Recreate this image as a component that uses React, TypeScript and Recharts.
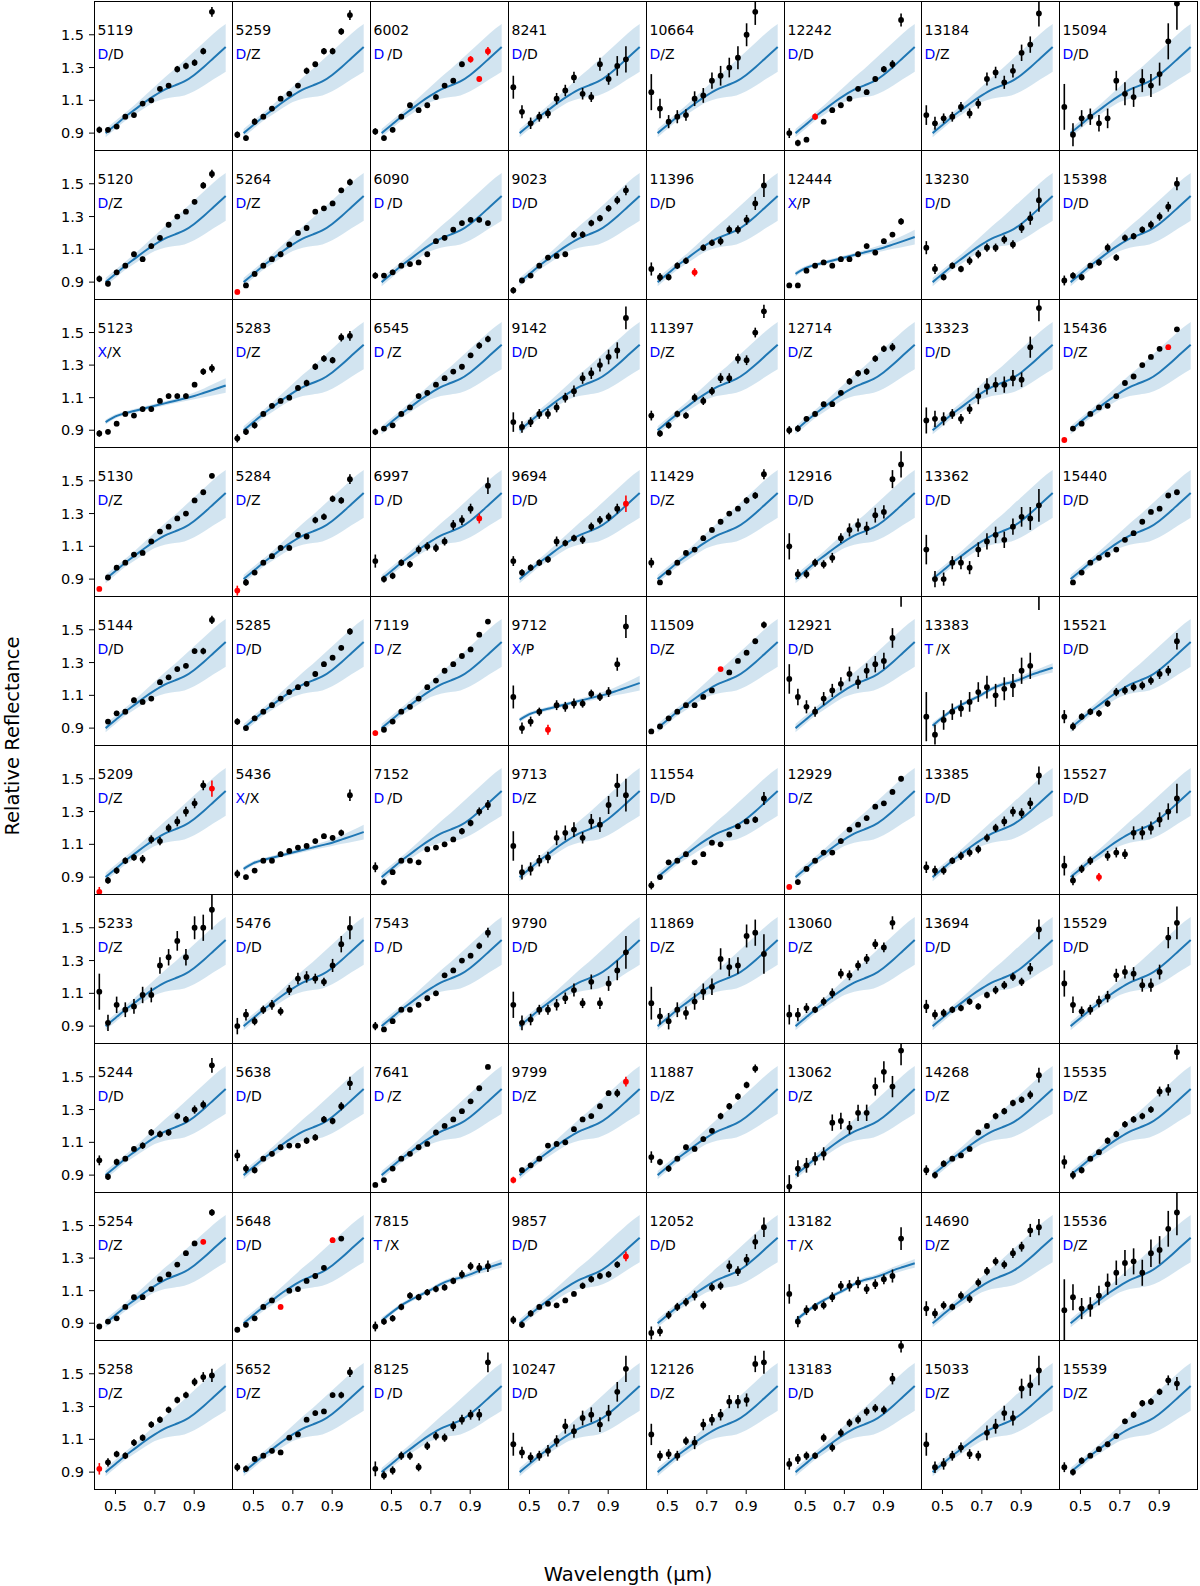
import React from "react";
import { ComposedChart, Area, Line, Scatter, ErrorBar, XAxis, YAxis } from "recharts";

// grid geometry (px)
const GX = 94.3;
const GY = 1;
const PW = 137.84;
const PH = 148.83;

const X_DOMAIN = [0.391, 1.092];
const Y_DOMAIN = [0.797, 1.706];
const X_TICKS = [0.5, 0.7, 0.9];
const Y_TICKS = [0.9, 1.1, 1.3, 1.5];
const FONT = "DejaVu Sans";
const BLUE = "#1f77b4";

// observed wavelengths (um)
const WAVE = [0.418, 0.462, 0.506, 0.55, 0.594, 0.638, 0.682, 0.726, 0.77, 0.814, 0.858, 0.902, 0.946, 0.99];

// class templates: mean spectrum and spread
const TPL_WAVE = [0.45, 0.5, 0.55, 0.6, 0.65, 0.7, 0.75, 0.8, 0.85, 0.9, 0.95, 1.0, 1.06];
const D_MID = [0.9, 0.95, 1.0, 1.045, 1.09, 1.13, 1.165, 1.19, 1.215, 1.255, 1.305, 1.36, 1.425];
const D_LO = [0.875, 0.925, 0.975, 1.015, 1.055, 1.09, 1.11, 1.12, 1.13, 1.155, 1.19, 1.23, 1.275];
const D_HI = [0.925, 0.975, 1.025, 1.075, 1.13, 1.185, 1.24, 1.29, 1.345, 1.4, 1.455, 1.51, 1.565];
const X_MID = [0.95, 0.985, 1.005, 1.02, 1.035, 1.05, 1.065, 1.08, 1.095, 1.11, 1.13, 1.15, 1.175];
const X_LO = [0.935, 0.972, 0.993, 1.008, 1.023, 1.038, 1.052, 1.066, 1.078, 1.09, 1.103, 1.115, 1.13];
const X_HI = [0.965, 0.998, 1.017, 1.032, 1.047, 1.062, 1.078, 1.094, 1.112, 1.132, 1.157, 1.185, 1.22];
const T_MID = [0.915, 0.965, 1.01, 1.045, 1.075, 1.105, 1.14, 1.165, 1.18, 1.2, 1.225, 1.245, 1.268];
const T_LO = [0.895, 0.95, 0.997, 1.032, 1.062, 1.092, 1.127, 1.15, 1.165, 1.183, 1.205, 1.223, 1.24];
const T_HI = [0.935, 0.98, 1.023, 1.058, 1.088, 1.118, 1.153, 1.18, 1.195, 1.217, 1.245, 1.267, 1.295];

const IDS = [
  5119, 5259, 6002, 8241, 10664, 12242, 13184, 15094,
  5120, 5264, 6090, 9023, 11396, 12444, 13230, 15398,
  5123, 5283, 6545, 9142, 11397, 12714, 13323, 15436,
  5130, 5284, 6997, 9694, 11429, 12916, 13362, 15440,
  5144, 5285, 7119, 9712, 11509, 12921, 13383, 15521,
  5209, 5436, 7152, 9713, 11554, 12929, 13385, 15527,
  5233, 5476, 7543, 9790, 11869, 13060, 13694, 15529,
  5244, 5638, 7641, 9799, 11887, 13062, 14268, 15535,
  5254, 5648, 7815, 9857, 12052, 13182, 14690, 15536,
  5258, 5652, 8125, 10247, 12126, 13183, 15033, 15539,
];

// predicted class (blue) / reference class (black)
const CLASS_A = (
  "DDDDDDDD" + "DDDDDXDD" + "XDDDDDDD" + "DDDDDDDD" + "DDDXDDTD" +
  "DXDDDDDD" + "DDDDDDDD" + "DDDDDDDD" + "DDTDDTDD" + "DDDDDDDD"
).split("");
const CLASS_B = (
  "DZDDZDZD" + "ZZDDDPDD" + "XZZDZZDZ" + "ZZDDZDDD" + "DDZPZDXD" +
  "ZXDZDZDD" + "ZDDDZZDD" + "DDZZZZZZ" + "ZDXDDXZZ" + "ZZDDZDZZ"
).split("");

const N = null;

const REFL: (number | null)[][] = [
  // row 1
  [0.92, 0.92, 0.94, 1.0, 1.01, 1.08, 1.1, 1.17, 1.19, 1.29, 1.31, 1.33, 1.4, 1.64],
  [0.89, 0.87, 0.97, 1.0, 1.05, 1.11, 1.14, 1.19, 1.28, 1.32, 1.4, 1.4, 1.52, 1.62],
  [0.91, 0.87, 0.92, 1.0, 1.07, 1.04, 1.07, 1.12, 1.19, 1.22, 1.32, 1.35, 1.23, 1.4],
  [1.18, 1.03, 0.96, 1.0, 1.02, 1.11, 1.16, 1.24, 1.14, 1.12, 1.32, 1.23, 1.31, 1.35],
  [1.15, 1.05, 0.97, 1.0, 1.01, 1.11, 1.13, 1.22, 1.25, 1.3, 1.36, 1.5, 1.64, N],
  [0.9, 0.84, 0.86, 1.0, 0.97, 1.04, 1.07, 1.11, 1.17, 1.15, 1.23, 1.29, 1.32, 1.59],
  [1.01, 0.96, 0.99, 1.0, 1.06, 1.02, 1.08, 1.23, 1.27, 1.21, 1.28, 1.39, 1.44, 1.63],
  [1.06, 0.89, 0.99, 1.0, 0.96, 0.99, 1.22, 1.14, 1.12, 1.22, 1.19, 1.26, 1.46, 1.69],
  // row 2
  [0.92, 0.89, 0.96, 1.0, 1.07, 1.04, 1.12, 1.17, 1.25, 1.3, 1.33, 1.39, 1.49, 1.56],
  [0.84, 0.88, 0.95, 1.0, 1.04, 1.07, 1.13, 1.2, 1.23, 1.33, 1.35, 1.38, 1.46, 1.51],
  [0.94, 0.94, 0.96, 1.0, 1.01, 1.02, 1.07, 1.15, 1.17, 1.22, 1.26, 1.28, 1.28, 1.26],
  [0.85, 0.91, 0.94, 1.0, 1.05, 1.06, 1.07, 1.19, 1.19, 1.26, 1.29, 1.35, 1.4, 1.46],
  [0.98, 0.93, 0.93, 1.0, 1.03, 0.96, 1.11, 1.14, 1.15, 1.22, 1.22, 1.28, 1.38, 1.49],
  [0.88, 0.88, 0.97, 1.0, 1.02, 1.0, 1.04, 1.04, 1.07, 1.12, 1.08, 1.15, 1.19, 1.27],
  [1.11, 0.98, 0.93, 1.0, 0.98, 1.03, 1.07, 1.11, 1.11, 1.16, 1.13, 1.23, 1.29, 1.4],
  [0.91, 0.94, 0.93, 1.0, 1.02, 1.11, 1.05, 1.17, 1.18, 1.22, 1.25, 1.3, 1.36, 1.5],
  // row 3
  [0.88, 0.89, 0.94, 1.0, 0.99, 1.03, 1.03, 1.08, 1.11, 1.11, 1.11, 1.18, 1.26, 1.28],
  [0.85, 0.89, 0.93, 1.0, 1.05, 1.08, 1.1, 1.16, 1.19, 1.29, 1.34, 1.33, 1.47, 1.48],
  [0.89, 0.91, 0.93, 1.0, 1.04, 1.11, 1.13, 1.18, 1.22, 1.26, 1.29, 1.36, 1.42, 1.46],
  [0.95, 0.92, 0.95, 1.0, 1.0, 1.04, 1.1, 1.14, 1.22, 1.25, 1.3, 1.35, 1.39, 1.59],
  [0.99, 0.88, 0.93, 1.0, 0.99, 1.1, 1.08, 1.14, 1.22, 1.22, 1.34, 1.33, 1.5, 1.63],
  [0.9, 0.91, 0.97, 1.0, 1.06, 1.06, 1.13, 1.2, 1.25, 1.26, 1.34, 1.4, 1.41, N],
  [0.96, 0.97, 0.97, 1.0, 0.97, 1.03, 1.11, 1.17, 1.18, 1.18, 1.22, 1.21, 1.41, 1.65],
  [0.84, 0.91, 0.94, 1.0, 1.04, 1.05, 1.11, 1.19, 1.23, 1.3, 1.35, 1.4, 1.41, 1.52],
  // row 4
  [0.84, 0.91, 0.97, 1.0, 1.05, 1.06, 1.13, 1.19, 1.22, 1.27, 1.3, 1.38, 1.43, 1.53],
  [0.83, 0.88, 0.94, 1.0, 1.04, 1.09, 1.09, 1.17, 1.16, 1.26, 1.28, 1.39, 1.38, 1.51],
  [1.01, 0.9, 0.92, 1.0, 0.99, 1.08, 1.1, 1.09, 1.13, 1.23, 1.26, 1.33, 1.27, 1.47],
  [1.01, 0.94, 0.97, 1.0, 1.02, 1.13, 1.12, 1.15, 1.14, 1.22, 1.26, 1.28, 1.33, 1.36],
  [1.0, 0.88, 0.94, 1.0, 1.06, 1.08, 1.15, 1.2, 1.25, 1.3, 1.33, 1.38, 1.41, 1.54],
  [1.1, 0.93, 0.93, 1.0, 0.99, 1.03, 1.15, 1.2, 1.23, 1.21, 1.29, 1.31, 1.51, 1.6],
  [1.08, 0.9, 0.9, 1.0, 1.0, 0.97, 1.08, 1.13, 1.17, 1.14, 1.22, 1.28, 1.27, 1.35],
  [N, 0.88, 0.94, 1.0, 1.03, 1.05, 1.08, 1.14, 1.18, 1.25, 1.31, 1.33, 1.41, 1.43],
  // row 5
  [N, 0.94, 0.99, 1.0, 1.07, 1.06, 1.08, 1.18, 1.21, 1.26, 1.28, 1.37, 1.37, 1.56],
  [0.94, 0.9, 0.96, 1.0, 1.04, 1.08, 1.12, 1.15, 1.17, 1.23, 1.29, 1.33, 1.39, 1.49],
  [0.87, 0.89, 0.94, 1.0, 1.03, 1.08, 1.15, 1.19, 1.25, 1.29, 1.34, 1.38, 1.47, 1.55],
  [1.09, 0.9, 0.94, 1.0, 0.89, 1.04, 1.03, 1.05, 1.05, 1.11, 1.09, 1.12, 1.29, 1.52],
  [0.88, 0.91, 0.96, 1.0, 1.04, 1.04, 1.09, 1.13, 1.26, 1.24, 1.31, 1.36, 1.43, 1.53],
  [1.2, 1.09, 1.03, 1.0, 1.08, 1.13, 1.17, 1.23, 1.18, 1.25, 1.29, 1.31, 1.45, 1.76],
  [0.97, 0.86, 0.95, 1.0, 1.02, 1.06, 1.12, 1.15, 1.1, 1.14, 1.16, 1.25, 1.28, 1.78],
  [0.97, 0.91, 0.97, 1.0, 0.99, 1.05, 1.12, 1.13, 1.15, 1.16, 1.19, 1.23, 1.25, 1.43],
  // row 6
  [0.81, 0.88, 0.94, 1.0, 1.02, 1.01, 1.13, 1.12, 1.2, 1.24, 1.3, 1.35, 1.46, 1.44],
  [0.92, 0.9, 0.94, 1.0, 1.0, 1.04, 1.06, 1.08, 1.09, 1.12, 1.15, 1.14, 1.17, 1.4],
  [0.96, 0.87, 0.93, 1.0, 1.0, 0.99, 1.07, 1.08, 1.1, 1.13, 1.18, 1.23, 1.3, 1.34],
  [1.09, 0.93, 0.95, 1.0, 1.02, 1.14, 1.17, 1.19, 1.14, 1.24, 1.22, 1.34, 1.46, 1.4],
  [0.85, 0.9, 0.99, 1.0, 1.04, 0.99, 1.04, 1.11, 1.1, 1.16, 1.21, 1.24, 1.25, 1.38],
  [0.84, 0.87, 0.95, 1.0, 1.05, 1.05, 1.12, 1.19, 1.22, 1.26, 1.33, 1.35, 1.42, 1.5],
  [0.96, 0.94, 0.94, 1.0, 1.03, 1.05, 1.07, 1.14, 1.2, 1.24, 1.3, 1.29, 1.35, 1.52],
  [0.97, 0.88, 0.95, 1.0, 0.9, 1.03, 1.05, 1.04, 1.17, 1.17, 1.2, 1.25, 1.3, 1.38],
  // row 7
  [1.11, 0.92, 1.03, 1.0, 1.02, 1.09, 1.09, 1.27, 1.32, 1.42, 1.32, 1.5, 1.5, 1.61],
  [0.9, 0.97, 0.93, 1.0, 1.03, 0.99, 1.12, 1.19, 1.2, 1.19, 1.17, 1.27, 1.4, 1.5],
  [0.9, 0.88, 0.93, 1.0, 1.0, 1.03, 1.07, 1.1, 1.21, 1.24, 1.3, 1.33, 1.39, 1.47],
  [1.03, 0.92, 0.94, 1.0, 1.0, 1.03, 1.07, 1.12, 1.04, 1.17, 1.04, 1.16, 1.24, 1.35],
  [1.04, 0.96, 0.93, 1.0, 0.98, 1.05, 1.11, 1.14, 1.31, 1.26, 1.27, 1.45, 1.47, 1.34],
  [0.97, 0.97, 1.01, 1.0, 1.05, 1.1, 1.22, 1.21, 1.27, 1.31, 1.4, 1.38, 1.53, N],
  [1.02, 0.97, 0.98, 1.0, 1.01, 1.05, 1.02, 1.09, 1.12, 1.15, 1.2, 1.17, 1.25, 1.49],
  [1.16, 1.03, 0.99, 1.0, 1.05, 1.08, 1.21, 1.23, 1.22, 1.15, 1.15, 1.23, 1.44, 1.53],
  // row 8
  [0.99, 0.89, 0.98, 1.0, 1.06, 1.08, 1.16, 1.15, 1.16, 1.26, 1.24, 1.3, 1.33, 1.57],
  [1.02, 0.94, 0.93, 1.0, 1.03, 1.07, 1.08, 1.08, 1.11, 1.13, 1.24, 1.23, 1.32, 1.46],
  [0.84, 0.87, 0.94, 1.0, 1.03, 1.07, 1.09, 1.16, 1.2, 1.24, 1.29, 1.35, 1.43, 1.56],
  [0.87, 0.93, 0.96, 1.0, 1.08, 1.09, 1.1, 1.18, 1.24, 1.26, 1.32, 1.4, 1.4, 1.47],
  [1.01, 0.98, 0.94, 1.0, 1.07, 1.06, 1.12, 1.17, 1.26, 1.32, 1.38, 1.45, 1.55, N],
  [0.83, 0.94, 0.96, 1.0, 1.03, 1.22, 1.23, 1.19, 1.28, 1.28, 1.44, 1.53, 1.44, 1.66],
  [0.93, 0.9, 0.97, 1.0, 1.02, 1.06, 1.16, 1.2, 1.26, 1.29, 1.34, 1.36, 1.39, 1.51],
  [0.98, 0.9, 0.93, 1.0, 1.04, 1.11, 1.15, 1.21, 1.24, 1.26, 1.3, 1.41, 1.42, 1.65],
  // row 9
  [0.88, 0.91, 0.93, 1.0, 1.06, 1.06, 1.11, 1.17, 1.2, 1.26, 1.33, 1.39, 1.4, 1.58],
  [0.86, 0.89, 0.93, 1.0, 1.04, 1.0, 1.1, 1.11, 1.16, 1.19, 1.24, 1.41, 1.42, N],
  [0.88, 0.91, 0.93, 1.0, 1.07, 1.06, 1.09, 1.11, 1.12, 1.16, 1.2, 1.25, 1.24, 1.25],
  [0.92, 0.89, 0.96, 1.0, 1.02, 1.01, 1.04, 1.08, 1.13, 1.17, 1.19, 1.2, 1.26, 1.31],
  [0.84, 0.85, 0.95, 1.0, 1.03, 1.07, 1.01, 1.12, 1.13, 1.25, 1.22, 1.29, 1.4, 1.49],
  [1.08, 0.91, 0.98, 1.0, 1.01, 1.06, 1.13, 1.13, 1.15, 1.11, 1.14, 1.17, 1.19, 1.42],
  [0.99, 0.96, 1.01, 1.0, 1.07, 1.05, 1.15, 1.22, 1.28, 1.26, 1.33, 1.37, 1.47, 1.49],
  [0.98, 1.06, 0.99, 1.0, 1.07, 1.14, 1.21, 1.27, 1.28, 1.21, 1.33, 1.35, 1.48, 1.58],
  // row 10
  [0.92, 0.96, 1.01, 1.0, 1.08, 1.11, 1.19, 1.22, 1.28, 1.34, 1.37, 1.45, 1.48, 1.49],
  [0.93, 0.92, 0.98, 1.0, 1.03, 1.02, 1.11, 1.13, 1.22, 1.26, 1.27, 1.37, 1.37, 1.51],
  [0.92, 0.88, 0.91, 1.0, 1.0, 0.93, 1.06, 1.12, 1.11, 1.18, 1.22, 1.25, 1.25, 1.57],
  [1.07, 1.02, 0.99, 1.0, 1.03, 1.09, 1.18, 1.15, 1.23, 1.25, 1.19, 1.26, 1.39, 1.53],
  [1.13, 1.0, 1.01, 1.0, 1.09, 1.08, 1.19, 1.22, 1.25, 1.33, 1.33, 1.34, 1.56, 1.57],
  [0.95, 0.98, 1.0, 1.0, 1.11, 1.05, 1.14, 1.2, 1.22, 1.27, 1.29, 1.28, 1.47, 1.67],
  [1.07, 0.93, 0.95, 1.0, 1.05, 1.01, 1.0, 1.14, 1.18, 1.26, 1.23, 1.41, 1.43, 1.52],
  [0.93, 0.9, 0.97, 1.0, 1.04, 1.07, 1.12, 1.21, 1.25, 1.32, 1.33, 1.39, 1.46, 1.44],
];

const ERR: number[][] = [
  // row 1
  [0.02, 0.015, 0.015, 0.015, 0.015, 0.015, 0.015, 0.015, 0.015, 0.02, 0.02, 0.02, 0.02, 0.03],
  [0.02, 0.015, 0.02, 0.015, 0.015, 0.015, 0.015, 0.015, 0.02, 0.015, 0.02, 0.02, 0.02, 0.03],
  [0.02, 0.015, 0.015, 0.015, 0.015, 0.015, 0.015, 0.015, 0.015, 0.015, 0.015, 0.02, 0.015, 0.025],
  [0.07, 0.04, 0.035, 0.03, 0.03, 0.035, 0.035, 0.035, 0.035, 0.03, 0.04, 0.035, 0.06, 0.08],
  [0.11, 0.06, 0.04, 0.04, 0.035, 0.045, 0.045, 0.05, 0.06, 0.06, 0.07, 0.07, 0.08, 0],
  [0.03, 0.02, 0.015, 0.02, 0.015, 0.015, 0.015, 0.015, 0.015, 0.015, 0.015, 0.02, 0.025, 0.04],
  [0.06, 0.04, 0.03, 0.03, 0.03, 0.03, 0.03, 0.04, 0.035, 0.04, 0.04, 0.05, 0.05, 0.08],
  [0.14, 0.07, 0.05, 0.05, 0.05, 0.06, 0.06, 0.07, 0.06, 0.07, 0.07, 0.07, 0.11, 0.16],
  // row 2
  [0.02, 0.015, 0.015, 0.015, 0.015, 0.015, 0.015, 0.015, 0.015, 0.015, 0.015, 0.015, 0.02, 0.025],
  [0.015, 0.015, 0.015, 0.015, 0.015, 0.015, 0.015, 0.015, 0.015, 0.015, 0.015, 0.015, 0.015, 0.02],
  [0.02, 0.015, 0.015, 0.015, 0.015, 0.015, 0.015, 0.015, 0.015, 0.015, 0.015, 0.015, 0.015, 0.015],
  [0.02, 0.015, 0.015, 0.015, 0.015, 0.015, 0.015, 0.02, 0.02, 0.02, 0.02, 0.02, 0.025, 0.03],
  [0.04, 0.025, 0.02, 0.02, 0.02, 0.025, 0.02, 0.02, 0.025, 0.025, 0.025, 0.03, 0.04, 0.07],
  [0.015, 0.015, 0.015, 0.015, 0.015, 0.015, 0.015, 0.015, 0.015, 0.015, 0.015, 0.015, 0.015, 0.02],
  [0.04, 0.03, 0.02, 0.02, 0.02, 0.025, 0.025, 0.025, 0.025, 0.025, 0.025, 0.03, 0.04, 0.07],
  [0.03, 0.02, 0.02, 0.015, 0.02, 0.025, 0.02, 0.02, 0.02, 0.02, 0.025, 0.025, 0.03, 0.04],
  // row 3
  [0.02, 0.015, 0.015, 0.015, 0.015, 0.015, 0.015, 0.015, 0.015, 0.015, 0.015, 0.015, 0.02, 0.025],
  [0.025, 0.02, 0.02, 0.015, 0.015, 0.015, 0.015, 0.015, 0.02, 0.02, 0.02, 0.02, 0.025, 0.03],
  [0.02, 0.015, 0.015, 0.015, 0.015, 0.015, 0.015, 0.015, 0.015, 0.015, 0.015, 0.015, 0.02, 0.02],
  [0.06, 0.035, 0.03, 0.03, 0.03, 0.03, 0.03, 0.035, 0.035, 0.035, 0.04, 0.045, 0.05, 0.07],
  [0.03, 0.02, 0.02, 0.02, 0.02, 0.025, 0.025, 0.025, 0.03, 0.03, 0.03, 0.03, 0.03, 0.04],
  [0.025, 0.02, 0.015, 0.015, 0.015, 0.015, 0.015, 0.02, 0.02, 0.02, 0.02, 0.02, 0.025, 0],
  [0.08, 0.05, 0.04, 0.03, 0.03, 0.03, 0.05, 0.05, 0.045, 0.05, 0.05, 0.045, 0.065, 0.08],
  [0.01, 0.01, 0.01, 0.01, 0.01, 0.01, 0.01, 0.01, 0.01, 0.01, 0.01, 0.01, 0.01, 0.012],
  // row 4
  [0.012, 0.012, 0.012, 0.012, 0.012, 0.012, 0.012, 0.012, 0.012, 0.012, 0.012, 0.012, 0.012, 0.015],
  [0.03, 0.02, 0.015, 0.015, 0.015, 0.015, 0.015, 0.015, 0.015, 0.02, 0.02, 0.02, 0.02, 0.03],
  [0.04, 0.02, 0.02, 0.02, 0.02, 0.025, 0.025, 0.025, 0.025, 0.03, 0.03, 0.03, 0.03, 0.05],
  [0.03, 0.02, 0.02, 0.02, 0.02, 0.03, 0.02, 0.02, 0.025, 0.025, 0.025, 0.025, 0.03, 0.05],
  [0.03, 0.015, 0.015, 0.015, 0.015, 0.015, 0.015, 0.015, 0.015, 0.015, 0.015, 0.02, 0.02, 0.03],
  [0.08, 0.03, 0.025, 0.025, 0.025, 0.03, 0.03, 0.04, 0.04, 0.04, 0.045, 0.04, 0.055, 0.08],
  [0.09, 0.05, 0.04, 0.04, 0.04, 0.04, 0.045, 0.05, 0.05, 0.05, 0.05, 0.06, 0.07, 0.1],
  [0, 0.01, 0.01, 0.01, 0.01, 0.01, 0.01, 0.01, 0.01, 0.01, 0.01, 0.01, 0.012, 0.012],
  // row 5
  [0, 0.015, 0.015, 0.015, 0.015, 0.015, 0.015, 0.015, 0.015, 0.015, 0.015, 0.015, 0.02, 0.025],
  [0.02, 0.015, 0.015, 0.015, 0.015, 0.015, 0.015, 0.015, 0.015, 0.015, 0.015, 0.015, 0.015, 0.02],
  [0.015, 0.012, 0.012, 0.012, 0.012, 0.012, 0.012, 0.012, 0.012, 0.012, 0.012, 0.012, 0.015, 0.015],
  [0.07, 0.035, 0.03, 0.025, 0.03, 0.03, 0.03, 0.03, 0.025, 0.025, 0.025, 0.03, 0.04, 0.07],
  [0.012, 0.012, 0.012, 0.012, 0.012, 0.012, 0.012, 0.012, 0.012, 0.012, 0.012, 0.015, 0.015, 0.02],
  [0.09, 0.05, 0.04, 0.03, 0.04, 0.04, 0.04, 0.045, 0.04, 0.045, 0.05, 0.05, 0.06, 0.12],
  [0.15, 0.06, 0.06, 0.05, 0.05, 0.06, 0.06, 0.07, 0.07, 0.07, 0.07, 0.08, 0.08, 0.16],
  [0.04, 0.025, 0.02, 0.02, 0.02, 0.02, 0.025, 0.025, 0.025, 0.025, 0.025, 0.03, 0.03, 0.05],
  // row 6
  [0.03, 0.02, 0.02, 0.02, 0.02, 0.025, 0.025, 0.025, 0.025, 0.03, 0.03, 0.03, 0.03, 0.05],
  [0.025, 0.015, 0.015, 0.015, 0.015, 0.015, 0.015, 0.015, 0.015, 0.015, 0.015, 0.015, 0.02, 0.035],
  [0.03, 0.02, 0.015, 0.015, 0.015, 0.015, 0.015, 0.015, 0.015, 0.015, 0.02, 0.02, 0.025, 0.03],
  [0.09, 0.045, 0.04, 0.035, 0.035, 0.045, 0.045, 0.045, 0.035, 0.045, 0.045, 0.055, 0.07, 0.1],
  [0.025, 0.015, 0.015, 0.015, 0.015, 0.015, 0.015, 0.015, 0.015, 0.015, 0.015, 0.015, 0.02, 0.04],
  [0.015, 0.015, 0.015, 0.015, 0.015, 0.015, 0.015, 0.015, 0.015, 0.015, 0.015, 0.015, 0.015, 0.015],
  [0.035, 0.03, 0.025, 0.02, 0.025, 0.025, 0.025, 0.025, 0.025, 0.03, 0.03, 0.03, 0.035, 0.055],
  [0.06, 0.03, 0.025, 0.025, 0.025, 0.03, 0.03, 0.03, 0.04, 0.04, 0.04, 0.045, 0.05, 0.09],
  // row 7
  [0.11, 0.05, 0.05, 0.045, 0.045, 0.05, 0.045, 0.05, 0.05, 0.06, 0.05, 0.07, 0.08, 0.12],
  [0.05, 0.035, 0.025, 0.025, 0.03, 0.025, 0.03, 0.035, 0.035, 0.03, 0.025, 0.04, 0.05, 0.07],
  [0.025, 0.015, 0.015, 0.015, 0.015, 0.015, 0.015, 0.015, 0.015, 0.015, 0.015, 0.015, 0.02, 0.03],
  [0.08, 0.045, 0.035, 0.03, 0.03, 0.035, 0.035, 0.04, 0.03, 0.045, 0.035, 0.045, 0.06, 0.1],
  [0.1, 0.05, 0.05, 0.045, 0.04, 0.05, 0.05, 0.05, 0.065, 0.055, 0.05, 0.07, 0.08, 0.12],
  [0.06, 0.04, 0.03, 0.02, 0.025, 0.03, 0.03, 0.03, 0.03, 0.03, 0.03, 0.03, 0.04, 0],
  [0.04, 0.03, 0.025, 0.02, 0.02, 0.02, 0.02, 0.02, 0.025, 0.025, 0.025, 0.025, 0.035, 0.06],
  [0.08, 0.05, 0.03, 0.03, 0.035, 0.035, 0.04, 0.04, 0.04, 0.04, 0.04, 0.045, 0.065, 0.1],
  // row 8
  [0.03, 0.02, 0.02, 0.015, 0.015, 0.02, 0.02, 0.02, 0.02, 0.02, 0.02, 0.025, 0.025, 0.045],
  [0.035, 0.025, 0.02, 0.015, 0.015, 0.015, 0.015, 0.015, 0.02, 0.02, 0.02, 0.02, 0.025, 0.04],
  [0.012, 0.012, 0.012, 0.012, 0.012, 0.012, 0.012, 0.012, 0.012, 0.012, 0.012, 0.012, 0.012, 0.012],
  [0.02, 0.015, 0.015, 0.015, 0.015, 0.015, 0.015, 0.015, 0.015, 0.015, 0.015, 0.015, 0.025, 0.03],
  [0.035, 0.02, 0.02, 0.015, 0.015, 0.015, 0.015, 0.015, 0.02, 0.02, 0.02, 0.02, 0.025, 0],
  [0.07, 0.05, 0.045, 0.04, 0.04, 0.05, 0.05, 0.04, 0.05, 0.05, 0.055, 0.065, 0.065, 0.09],
  [0.03, 0.02, 0.02, 0.015, 0.015, 0.015, 0.015, 0.015, 0.02, 0.02, 0.02, 0.02, 0.025, 0.045],
  [0.04, 0.025, 0.02, 0.015, 0.015, 0.02, 0.02, 0.02, 0.02, 0.02, 0.02, 0.03, 0.035, 0.045],
  // row 9
  [0.012, 0.012, 0.012, 0.012, 0.012, 0.012, 0.012, 0.012, 0.012, 0.012, 0.012, 0.012, 0.015, 0.02],
  [0.015, 0.015, 0.015, 0.015, 0.015, 0.015, 0.015, 0.015, 0.015, 0.015, 0.015, 0.015, 0.015, 0],
  [0.03, 0.02, 0.02, 0.02, 0.02, 0.02, 0.02, 0.02, 0.02, 0.02, 0.025, 0.025, 0.03, 0.035],
  [0.025, 0.02, 0.02, 0.015, 0.015, 0.015, 0.015, 0.015, 0.02, 0.02, 0.02, 0.02, 0.02, 0.03],
  [0.04, 0.03, 0.025, 0.025, 0.025, 0.03, 0.025, 0.025, 0.025, 0.035, 0.03, 0.035, 0.045, 0.06],
  [0.06, 0.035, 0.03, 0.025, 0.025, 0.03, 0.03, 0.035, 0.035, 0.03, 0.03, 0.03, 0.04, 0.07],
  [0.045, 0.03, 0.025, 0.02, 0.025, 0.025, 0.025, 0.025, 0.025, 0.025, 0.03, 0.03, 0.04, 0.05],
  [0.19, 0.08, 0.065, 0.06, 0.06, 0.065, 0.075, 0.08, 0.08, 0.08, 0.085, 0.085, 0.11, 0.14],
  // row 10
  [0.035, 0.025, 0.02, 0.02, 0.02, 0.02, 0.02, 0.02, 0.02, 0.02, 0.02, 0.025, 0.03, 0.04],
  [0.025, 0.02, 0.015, 0.015, 0.015, 0.015, 0.015, 0.015, 0.015, 0.015, 0.015, 0.015, 0.02, 0.03],
  [0.045, 0.025, 0.025, 0.025, 0.025, 0.025, 0.025, 0.025, 0.025, 0.03, 0.03, 0.03, 0.035, 0.06],
  [0.07, 0.035, 0.03, 0.03, 0.035, 0.035, 0.045, 0.04, 0.045, 0.045, 0.045, 0.05, 0.06, 0.08],
  [0.065, 0.03, 0.03, 0.03, 0.025, 0.04, 0.035, 0.035, 0.035, 0.04, 0.04, 0.04, 0.05, 0.07],
  [0.035, 0.03, 0.025, 0.02, 0.025, 0.025, 0.025, 0.025, 0.025, 0.025, 0.025, 0.025, 0.035, 0.04],
  [0.07, 0.035, 0.035, 0.03, 0.03, 0.03, 0.03, 0.045, 0.045, 0.045, 0.045, 0.06, 0.065, 0.09],
  [0.03, 0.02, 0.02, 0.015, 0.015, 0.015, 0.015, 0.015, 0.02, 0.02, 0.02, 0.02, 0.03, 0.04],
];

// indices of flagged (red) points in each panel
const FLAGGED: number[][] = [
  [], [], [11, 12, 13], [], [], [3], [], [],
  [], [0], [], [], [5], [], [], [],
  [], [], [], [], [], [], [], [0, 12],
  [0], [0], [12], [13], [], [], [], [],
  [], [], [0], [4], [8], [], [], [],
  [0, 13], [], [], [], [], [0], [], [4],
  [], [], [], [], [], [], [], [],
  [], [], [], [0, 13], [], [], [], [],
  [12], [5, 11], [], [13], [], [], [], [],
  [0], [], [], [], [], [], [], [],
];

const TEMPLATES: Record<string, { mid: number[]; lo: number[]; hi: number[] }> = {
  D: { mid: D_MID, lo: D_LO, hi: D_HI },
  X: { mid: X_MID, lo: X_LO, hi: X_HI },
  T: { mid: T_MID, lo: T_LO, hi: T_HI },
};

const dot = (fill: string) => (p: any) =>
  Number.isFinite(p.cx) && Number.isFinite(p.cy) ? <circle cx={p.cx} cy={p.cy} r={2.9} fill={fill} /> : <g />;

const tickStyle = { fontSize: 14.5, fill: "#000", fontFamily: FONT };

// pixel-snapped panel edges
const colEdge = (c: number) => Math.round(GX + c * PW);
const rowEdge = (r: number) => Math.round(GY + r * PH);

function Panel({ i }: { i: number }) {
  const r = Math.floor(i / 8);
  const c = i % 8;
  const lm = c === 0 ? 48 : 8;
  const bm = r === 9 ? 32 : 0;
  const pw = colEdge(c + 1) - colEdge(c);
  const ph = rowEdge(r + 1) - rowEdge(r);
  const w = pw + lm;
  const h = ph + bm;

  const tpl = TEMPLATES[CLASS_A[i]];
  const model = TPL_WAVE.map((x, k) => ({ w: x, v: tpl.mid[k], band: [tpl.lo[k], tpl.hi[k]] }));
  const pts = WAVE.map((x, k) => ({
    w: x,
    y: REFL[i][k],
    e: ERR[i][k],
    bad: FLAGGED[i].includes(k),
  })).filter((p) => p.y !== null);
  const good = pts.filter((p) => !p.bad);
  const bad = pts.filter((p) => p.bad);

  return (
    <div style={{ position: "absolute", left: colEdge(c) - lm, top: rowEdge(r), width: w, height: h }}>
      <ComposedChart width={w} height={h} data={model} margin={{ top: 0, right: 0, bottom: 0, left: 0 }}>
        <XAxis
          type="number"
          dataKey="w"
          domain={X_DOMAIN}
          allowDataOverflow
          ticks={X_TICKS}
          interval={0}
          hide={r !== 9}
          height={bm}
          stroke="#000"
          axisLine={false}
          tick={tickStyle}
          tickSize={5}
          tickMargin={7}
          tickFormatter={(v: number) => v.toFixed(1)}
        />
        <YAxis
          type="number"
          dataKey="y"
          domain={Y_DOMAIN}
          allowDataOverflow
          ticks={Y_TICKS}
          interval={0}
          width={lm}
          stroke="#000"
          axisLine={false}
          tick={c === 0 ? tickStyle : false}
          tickSize={5}
          tickMargin={5}
          tickFormatter={(v: number) => v.toFixed(1)}
        />
        <Area dataKey="band" type="monotone" stroke="none" fill={BLUE} fillOpacity={0.2} dot={false} activeDot={false} isAnimationActive={false} />
        <Line dataKey="v" type="monotone" stroke={BLUE} strokeWidth={2} dot={false} activeDot={false} isAnimationActive={false} />
        <Scatter data={good} dataKey="y" fill="#000" shape={dot("#000")} isAnimationActive={false}>
          <ErrorBar dataKey="e" direction="y" width={0} stroke="#000" strokeWidth={1.6} isAnimationActive={false} />
        </Scatter>
        {bad.length > 0 && (
          <Scatter data={bad} dataKey="y" fill="#ff0000" shape={dot("#ff0000")} isAnimationActive={false}>
            <ErrorBar dataKey="e" direction="y" width={0} stroke="#ff0000" strokeWidth={1.6} isAnimationActive={false} />
          </Scatter>
        )}
      </ComposedChart>
    </div>
  );
}

export default function App() {
  return (
    <div style={{ position: "absolute", left: 0, top: 0, width: 1200, height: 1586, background: "#fff", fontFamily: FONT }}>
      {IDS.map((_, i) => (
        <Panel key={i} i={i} />
      ))}
      <svg width={1200} height={1586} style={{ position: "absolute", left: 0, top: 0, pointerEvents: "none" }}>
        {IDS.map((id, i) => {
          const r = Math.floor(i / 8);
          const c = i % 8;
          const x0 = colEdge(c);
          const y0 = rowEdge(r);
          const gap = c === 2 || CLASS_A[i] === "T" ? 3 : 0;
          return (
            <g key={id} fontFamily={FONT} fontSize={14}>
              <rect
                x={x0 + 0.5}
                y={y0 + 0.5}
                width={colEdge(c + 1) - x0}
                height={rowEdge(r + 1) - y0}
                fill="none"
                stroke="#000"
                strokeWidth={1}
              />
              <text x={x0 + 3.5} y={y0 + 34} fill="#000">{id}</text>
              <text x={x0 + 3.5} y={y0 + 58}>
                <tspan fill="#0000ff">{CLASS_A[i]}</tspan>
                <tspan dx={gap} fill="#000">/{CLASS_B[i]}</tspan>
              </text>
            </g>
          );
        })}
        <text
          transform="translate(18.5,736) rotate(-90)"
          textAnchor="middle"
          fontFamily={FONT}
          fontSize={19.5}
          fill="#000"
        >
          Relative Reflectance
        </text>
        <text x={628} y={1581} textAnchor="middle" fontFamily={FONT} fontSize={19.5} fill="#000">
          Wavelength (μm)
        </text>
      </svg>
    </div>
  );
}
